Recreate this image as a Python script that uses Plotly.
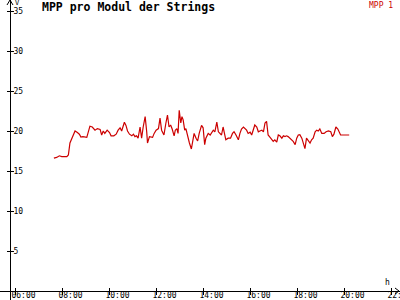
import plotly.graph_objects as go

DAY = "2024-06-01 "

times = ["07:38","07:45","07:52","07:58","08:11","08:15","08:19","08:24","08:28","08:32",
         "08:38","08:43","08:47","08:52","09:02","09:06","09:10","09:16","09:23","09:29",
         "09:36","09:40","09:44","09:48","09:54","10:00","10:04","10:11","10:17","10:22",
         "10:27","10:31","10:38","10:42","10:46","10:51","10:57","11:01","11:05","11:09",
         "11:13","11:18","11:22","11:26","11:31","11:35","11:37","11:42","11:50","11:54",
         "11:59","12:05","12:09","12:13","12:19","12:24","12:28","12:32","12:36","12:40",
         "12:45","12:48","12:52","12:55","12:58","13:02","13:05","13:08","13:12","13:15",
         "13:19","13:24","13:29","13:32","13:36","13:41","13:45","13:49","13:55","13:59",
         "14:03","14:06","14:12","14:17","14:21","14:25","14:29","14:34","14:38","14:42",
         "14:46","14:50","14:55","14:57","15:03","15:09","15:14","15:18","15:23","15:29",
         "15:33","15:37","15:42","15:46","15:50","15:54","15:59","16:03","16:07","16:11",
         "16:16","16:20","16:24","16:29","16:33","16:37","16:41","16:45","16:50","16:54",
         "16:58","17:02","17:07","17:11","17:15","17:20","17:24","17:28","17:32","17:36",
         "17:41","17:45","17:49","17:54","17:58","18:02","18:06","18:11","18:15","18:19",
         "18:23","18:28","18:32","18:36","18:40","18:45","18:49","18:53","18:57","19:02",
         "19:08","19:13","19:19","19:25","19:29","19:33","19:38","19:43","19:47","19:50",
         "19:57","20:12"]

mpp1 = [16.6,16.7,16.9,16.8,16.8,17.0,18.5,19.1,19.6,20.0,
        19.8,19.6,19.25,19.3,19.2,20.1,20.6,20.5,20.1,20.3,
        20.2,19.5,20.0,19.7,20.1,19.8,19.4,19.4,19.6,20.1,
        20.4,20.0,21.1,20.7,20.0,19.6,19.4,19.6,19.3,19.4,
        19.1,20.5,19.1,20.5,21.8,19.9,18.5,19.3,19.2,19.7,
        20.1,20.3,21.6,20.1,19.5,21.0,22.0,20.5,20.75,20.25,
        19.4,20.1,20.3,19.7,22.6,21.0,21.8,21.4,20.1,20.3,
        19.3,18.5,17.75,18.9,19.7,19.1,18.75,19.7,20.7,20.4,
        18.3,19.1,19.7,19.5,19.9,20.1,19.9,21.1,19.9,19.7,
        19.5,20.5,19.1,18.9,19.1,19.1,19.7,19.9,19.5,18.9,
        19.7,20.25,20.5,20.3,20.1,19.7,19.85,19.5,20.3,20.75,
        20.5,19.9,20.0,20.1,19.9,21.0,21.2,19.5,19.2,18.9,
        18.7,18.9,18.6,19.5,19.4,19.1,19.4,19.3,19.4,19.3,
        19.1,18.9,18.7,18.3,19.1,19.5,19.55,19.1,18.5,17.8,
        19.1,18.75,18.5,18.9,19.1,19.9,20.1,20.0,20.25,19.7,
        19.7,19.9,20.0,19.9,19.3,19.6,20.5,20.25,19.9,19.5,
        19.5,19.5]

x_range = [DAY + "05:20:24", DAY + "22:21:42"]
y_range = [-1.125, 36.375]
y_ticks = [5, 10, 15, 20, 25, 30, 35]
x_tick0 = DAY + "06:00"
x_dtick = 2 * 3600 * 1000

title = "MPP pro Modul der Strings"
series_name = "MPP 1"
RED = "#CC0000"
MONO = "DejaVu Sans Mono"

fig = go.Figure()
fig.add_trace(go.Scatter(
    x=[DAY + t for t in times], y=mpp1, mode="lines", name=series_name,
    line=dict(color=RED, width=1.2), xaxis="x", yaxis="y", showlegend=False))
# helper empty trace so overlay axes (tick crosses) are drawn
fig.add_trace(go.Scatter(x=[None], y=[None], xaxis="x2", yaxis="y2",
                         showlegend=False, hoverinfo="skip"))

XPOS = 9 / 300
YPOS = 10 / 400
tickfont = dict(family=MONO, size=8, color="black")

fig.update_layout(
    width=400, height=300,
    margin=dict(l=0, r=0, t=0, b=0, pad=0),
    paper_bgcolor="white", plot_bgcolor="white",
    showlegend=False,
    xaxis=dict(type="date", range=x_range, domain=[0, 1], anchor="free", position=XPOS,
               showgrid=False, zeroline=False, showline=True, linecolor="black", linewidth=1,
               ticks="outside", ticklen=3, tickcolor="black", tickwidth=1,
               tick0=x_tick0, dtick=x_dtick, tickformat="%H:%M",
               ticklabelposition="outside", ticklabelshift=8, ticklabelstandoff=-7,
               ticklabeloverflow="allow",
               tickfont=tickfont, automargin=False, fixedrange=True),
    yaxis=dict(range=y_range, domain=[0, 1], anchor="free", position=YPOS,
               showgrid=False, zeroline=False, showline=True, linecolor="black", linewidth=1,
               ticks="outside", ticklen=3, tickcolor="black", tickwidth=1,
               tickvals=y_ticks, ticklabelposition="inside", ticklabelstandoff=1,
               ticklabeloverflow="allow",
               tickfont=tickfont, automargin=False, fixedrange=True),
    xaxis2=dict(type="date", range=x_range, overlaying="x", anchor="free", position=XPOS,
                showgrid=False, zeroline=False, showline=False,
                ticks="inside", ticklen=3, tickcolor="black", tickwidth=1,
                tick0=x_tick0, dtick=x_dtick, showticklabels=False, automargin=False),
    yaxis2=dict(range=y_range, overlaying="y", anchor="free", position=YPOS,
                showgrid=False, zeroline=False, showline=False,
                ticks="inside", ticklen=3, tickcolor="black", tickwidth=1,
                tickvals=y_ticks, showticklabels=False, automargin=False),
)

# axis arrow heads
fig.add_shape(type="path", xref="paper", yref="paper", xsizemode="pixel", ysizemode="pixel",
              xanchor=YPOS, yanchor=1, path="M -3,-5 L 0,0 L 3,-5",
              line=dict(color="black", width=1))
fig.add_shape(type="path", xref="paper", yref="paper", xsizemode="pixel", ysizemode="pixel",
              xanchor=399 / 400, yanchor=XPOS, path="M -4,3 L 0,0 L -4,-3",
              line=dict(color="black", width=1))

fig.add_annotation(text="<b>" + title + "</b>", xref="paper", yref="paper",
                   x=40 / 400, y=1 - 7 / 300, xanchor="left", yanchor="middle",
                   showarrow=False, font=dict(family=MONO, size=11.5, color="black"))
fig.add_annotation(text=series_name, xref="paper", yref="paper",
                   x=395 / 400, y=1 - 5 / 300, xanchor="right", yanchor="middle",
                   showarrow=False, font=dict(family=MONO, size=8, color=RED))
fig.add_annotation(text="V", xref="paper", yref="paper",
                   x=13 / 400, y=1 - 3 / 300, xanchor="left", yanchor="middle",
                   showarrow=False, font=dict(family=MONO, size=7, color="black"))
fig.add_annotation(text="h", xref="paper", yref="paper",
                   x=387 / 400, y=1 - 282 / 300, xanchor="center", yanchor="middle",
                   showarrow=False, font=dict(family=MONO, size=8, color="black"))

fig.write_html("out.html")
